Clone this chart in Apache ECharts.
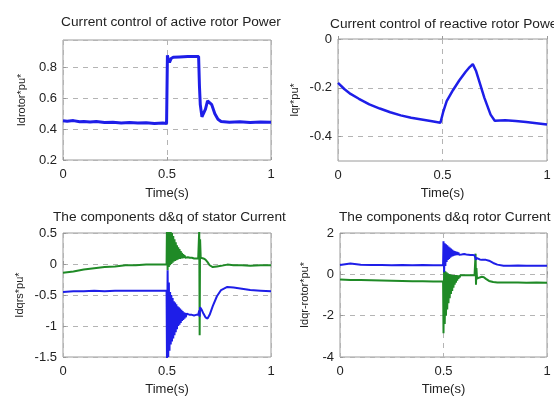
<!DOCTYPE html>
<html>
<head>
<meta charset="utf-8">
<script src="https://cdn.jsdelivr.net/npm/echarts@6/dist/echarts.min.js"></script>
<style>
  html, body { margin: 0; padding: 0; background: #fff; }
  #main { width: 554px; height: 399px; }
</style>
</head>
<body>
<div id="main"></div>
<script>
// panel 1 : active rotor current
const t1 = [0, 0.02, 0.05, 0.08, 0.1, 0.13, 0.16, 0.2, 0.24, 0.28, 0.32, 0.36, 0.4, 0.44, 0.48, 0.498,
  0.502, 0.506, 0.512, 0.52, 0.53, 0.56, 0.6, 0.63, 0.652, 0.656, 0.66, 0.668, 0.676, 0.685, 0.695,
  0.703, 0.715, 0.73, 0.745, 0.76, 0.8, 0.85, 0.9, 0.95, 1.0];
const idRotor = [0.455, 0.452, 0.456, 0.449, 0.451, 0.447, 0.45, 0.444, 0.446, 0.441, 0.443, 0.44, 0.442, 0.438, 0.44, 0.437,
  0.88, 0.85, 0.835, 0.86, 0.868, 0.87, 0.872, 0.873, 0.872, 0.68, 0.56, 0.48, 0.468, 0.53, 0.585,
  0.598, 0.56, 0.5, 0.465, 0.45, 0.446, 0.449, 0.444, 0.447, 0.445];

// panel 2 : reactive rotor current
const t2 = [0, 0.03, 0.06, 0.1, 0.15, 0.2, 0.25, 0.3, 0.35, 0.4, 0.45, 0.49, 0.497, 0.503, 0.52, 0.55,
  0.58, 0.61, 0.63, 0.645, 0.66, 0.7, 0.73, 0.75, 0.8, 0.85, 0.9, 0.95, 1.0];
const iqRotor = [-0.18, -0.205, -0.225, -0.245, -0.268, -0.285, -0.3, -0.313, -0.323, -0.33, -0.337, -0.343, -0.345, -0.3, -0.255, -0.21,
  -0.17, -0.135, -0.115, -0.103, -0.13, -0.24, -0.31, -0.335, -0.333, -0.336, -0.34, -0.345, -0.35];

// panels 3 and 4 share the same time base
const tDQ = [0, 0.05, 0.1, 0.15, 0.2, 0.25, 0.3, 0.35, 0.4, 0.45, 0.498,
  0.5, 0.503, 0.506, 0.509, 0.512, 0.515, 0.518, 0.521, 0.524, 0.527, 0.53, 0.533, 0.536, 0.539, 0.542,
  0.545, 0.548, 0.551, 0.554, 0.557, 0.56, 0.563, 0.566, 0.569, 0.572, 0.575, 0.578, 0.581, 0.584,
  0.587, 0.59, 0.595, 0.6,
  0.61, 0.62, 0.63, 0.64, 0.65, 0.653,
  0.655, 0.657, 0.659, 0.662,
  0.667, 0.675, 0.685, 0.695, 0.705, 0.72, 0.74, 0.76, 0.79, 0.82, 0.86, 0.9, 0.95, 1.0];

// stator d (blue) / q (green)
const isd = [-0.45, -0.44, -0.44, -0.43, -0.44, -0.43, -0.43, -0.43, -0.43, -0.43, -0.43,
  -1.6, -0.1, -1.5, -0.3, -1.4, -0.45, -1.3, -0.5, -1.25, -0.55, -1.2, -0.6, -1.15, -0.62, -1.1,
  -0.65, -1.05, -0.68, -1.0, -0.7, -0.98, -0.72, -0.95, -0.74, -0.92, -0.76, -0.9, -0.78, -0.88,
  -0.79, -0.86, -0.8, -0.83,
  -0.82, -0.82, -0.83, -0.82, -0.82, -0.82,
  -0.75, -0.85, -0.7, -0.72,
  -0.74, -0.8, -0.86, -0.88, -0.82, -0.68, -0.52, -0.42, -0.37, -0.38, -0.4, -0.42, -0.43, -0.44];
const isq = [-0.14, -0.12, -0.09, -0.07, -0.05, -0.04, -0.02, -0.02, -0.01, -0.01, -0.01,
  0.7, -0.1, 0.65, -0.05, 0.6, -0.02, 0.55, 0.0, 0.5, 0.02, 0.45, 0.04, 0.4, 0.05, 0.35,
  0.06, 0.3, 0.07, 0.27, 0.08, 0.24, 0.08, 0.21, 0.09, 0.18, 0.09, 0.16, 0.1, 0.14,
  0.1, 0.13, 0.1, 0.11,
  0.1, 0.1, 0.09, 0.09, 0.09, 0.1,
  0.55, -1.15, 0.4, 0.1,
  0.1, 0.09, 0.07, 0.03, -0.02, -0.05, -0.04, -0.03, -0.01, -0.02, -0.02, -0.03, -0.02, -0.02];

// rotor d (blue) / q (green)
const ird = [0.45, 0.52, 0.46, 0.45, 0.45, 0.44, 0.45, 0.44, 0.45, 0.44, 0.44,
  1.6, 0.1, 1.5, 0.4, 1.45, 0.6, 1.4, 0.7, 1.35, 0.75, 1.3, 0.8, 1.25, 0.85, 1.2,
  0.88, 1.15, 0.9, 1.12, 0.92, 1.1, 0.93, 1.08, 0.94, 1.05, 0.95, 1.03, 0.95, 1.02,
  0.96, 1.0, 0.96, 0.98,
  0.96, 0.95, 0.94, 0.93, 0.92, 0.91,
  0.95, 0.7, 0.8, 0.72,
  0.72, 0.72, 0.7, 0.7, 0.7, 0.66, 0.55, 0.47, 0.42, 0.42, 0.43, 0.42, 0.42, 0.42];
const irq = [-0.25, -0.27, -0.28, -0.29, -0.3, -0.31, -0.32, -0.33, -0.34, -0.35, -0.35,
  -2.85, 0.2, -2.4, 0.15, -2.0, 0.1, -1.7, 0.05, -1.4, 0.02, -1.15, 0.0, -0.95, -0.02, -0.8,
  -0.03, -0.65, -0.03, -0.5, -0.04, -0.4, -0.04, -0.3, -0.05, -0.22, -0.05, -0.15, -0.05, -0.1,
  -0.05, -0.08, -0.05, -0.06,
  -0.05, -0.05, -0.04, -0.05, -0.05, -0.06,
  1.0, -0.5, 0.3, -0.2,
  -0.2, -0.15, -0.12, -0.14, -0.22, -0.32, -0.37, -0.39, -0.4, -0.4, -0.4, -0.41, -0.4, -0.41];

const titles = ['Current control of active rotor Power', 'Current control of reactive rotor Power',
  'The components d&q of stator Current', 'The components d&q rotor Current'];
const yNames = ['Idrotor*pu*', 'Iqr*pu*', 'Idqrs*pu*', 'Idqr-rotor*pu*'];

const BLUE = '#1e1ee8';
const GREEN = '#1f8a26';
const FONT = 'Liberation Sans, Arial, sans-serif';

function pairs(t, v) {
  return t.map(function (x, i) { return [x, v[i]]; });
}

const gridLine = { show: true, lineStyle: { color: '#b4b4b4', type: [5, 5], width: 1 } };

function xAxisFor(idx, gap) {
  return {
    type: 'value', gridIndex: idx, min: 0, max: 1, interval: 0.5,
    name: 'Time(s)', nameLocation: 'middle', nameGap: gap,
    nameTextStyle: { fontFamily: FONT, fontSize: 13, color: '#222' },
    axisLine: { show: false },
    axisTick: { inside: true, length: 3, lineStyle: { color: '#999' } },
    axisLabel: { fontFamily: FONT, fontSize: 13, color: '#222', margin: 8 },
    splitLine: gridLine,
  };
}

function yAxisFor(idx, opts, gap) {
  return Object.assign({
    type: 'value', gridIndex: idx,
    name: yNames[idx], nameLocation: 'middle', nameGap: gap, nameRotate: 90,
    nameTextStyle: { fontFamily: FONT, fontSize: 11, color: '#222' },
    axisLine: { show: false },
    axisTick: { inside: true, length: 3, lineStyle: { color: '#999' } },
    axisLabel: { fontFamily: FONT, fontSize: 13, color: '#222', margin: 6, showMaxLabel: true },
    splitLine: gridLine,
  }, opts);
}

function lineSeries(idx, data, color, width) {
  return {
    type: 'line', xAxisIndex: idx, yAxisIndex: idx, data: data,
    showSymbol: false, symbol: 'none', animation: false, clip: true,
    lineStyle: { color: color, width: width },
  };
}

const myChart = echarts.init(document.getElementById('main'));
const option = {
  backgroundColor: '#fff',
  animation: false,
  title: [
    { text: titles[0], left: 166, top: 10, textAlign: 'center' },
    { text: titles[1], left: 325, top: 12 },
    { text: titles[2], left: 48, top: 205 },
    { text: titles[3], left: 334, top: 205 },
  ].map(function (t) {
    t.textStyle = { fontFamily: FONT, fontSize: 13.7, fontWeight: 'normal', color: '#222' };
    return t;
  }),
  grid: [
    { left: 63, top: 40, width: 208, height: 120 },
    { left: 338, top: 39, width: 209, height: 122 },
    { left: 63, top: 233, width: 208, height: 124 },
    { left: 340, top: 233, width: 207, height: 124 },
  ].map(function (g) {
    g.show = true;
    g.borderColor = '#9a9a9a';
    g.borderWidth = 1;
    g.backgroundColor = '#fff';
    return g;
  }),
  xAxis: [xAxisFor(0, 27), xAxisFor(1, 26), xAxisFor(2, 26), xAxisFor(3, 26)],
  yAxis: [
    yAxisFor(0, { min: 0.2, max: 0.98, interval: 0.2,
      axisLabel: { fontFamily: FONT, fontSize: 13, color: '#222', margin: 6, showMaxLabel: false } }, 36),
    yAxisFor(1, { min: -0.5, max: 0,
      axisTick: { inside: true, length: 3, lineStyle: { color: '#999' }, customValues: [-0.4, -0.2, 0] },
      axisLabel: { fontFamily: FONT, fontSize: 13, color: '#222', margin: 6, customValues: [-0.4, -0.2, 0] } }, 38),
    yAxisFor(2, { min: -1.5, max: 0.5, interval: 0.5 }, 38),
    yAxisFor(3, { min: -4, max: 2, interval: 2 }, 30),
  ],
  series: [
    lineSeries(0, pairs(t1, idRotor), BLUE, 3),
    lineSeries(1, pairs(t2, iqRotor), BLUE, 2.5),
    lineSeries(2, pairs(tDQ, isq), GREEN, 2),
    lineSeries(2, pairs(tDQ, isd), BLUE, 2),
    lineSeries(3, pairs(tDQ, irq), GREEN, 2),
    lineSeries(3, pairs(tDQ, ird), BLUE, 2),
  ],
};
myChart.setOption(option);
window.onresize = myChart.resize;
</script>
</body>
</html>
